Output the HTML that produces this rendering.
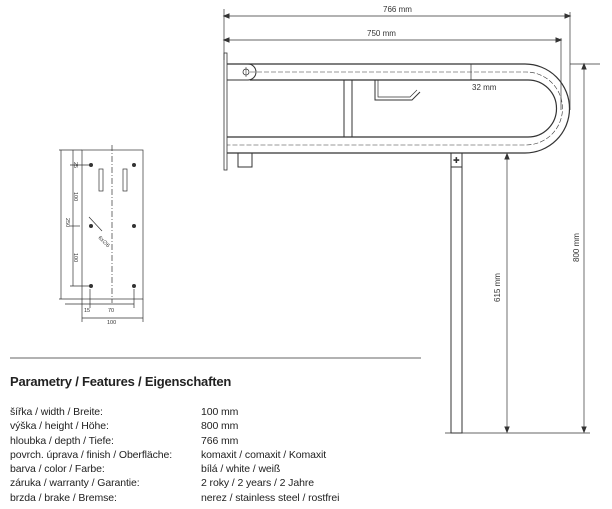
<!DOCTYPE html>
<html><head><meta charset="utf-8"><style>
body{margin:0;background:#fff;width:612px;height:509px;overflow:hidden;font-family:"Liberation Sans",sans-serif}
svg{position:absolute;left:0;top:0}
.t{position:absolute;font-size:10.5px;color:#222;line-height:14.3px;letter-spacing:-0.1px}
</style></head><body>
<svg width="612" height="509" viewBox="0 0 612 509" font-family="Liberation Sans" fill="none" stroke="#333" stroke-width="1">
<line x1="224" y1="9" x2="224" y2="60" stroke-width="0.7"/>
<line x1="224" y1="16" x2="570" y2="16" stroke-width="0.8"/>
<line x1="570" y1="12" x2="570" y2="110" stroke-width="0.7"/>
<path d="M224 16l5-2v4zM570 16l-5-2v4z" fill="#333"/>
<text x="383" y="12" font-size="8" fill="#333" stroke="none">766 mm</text>
<line x1="224" y1="40" x2="561" y2="40" stroke-width="0.8"/>
<line x1="561" y1="38" x2="561" y2="110" stroke-width="0.7"/>
<path d="M224 40l5-2v4zM561 40l-5-2v4z" fill="#333"/>
<text x="367" y="36" font-size="8" fill="#333" stroke="none">750 mm</text>
<rect x="224" y="53" width="3" height="117" stroke-width="0.8"/>
<path d="M227 64H525A44.5 44.5 0 0 1 525 153H227" stroke-width="1.2"/>
<path d="M250 80H528A28.5 28.5 0 0 1 528 137H227" stroke-width="1.2"/>
<path d="M250 72H526A36.5 36.5 0 0 1 526 145H227" stroke-width="0.6" stroke-dasharray="5 2"/>
<path d="M227 64H248A8 8 0 0 1 248 80H227" stroke-width="1"/>
<circle cx="246" cy="72" r="3" stroke-width="0.8"/>
<line x1="246" y1="67" x2="246" y2="77" stroke-width="0.6"/>
<rect x="344" y="80" width="8" height="57"/>
<path d="M375 80V100H412L420 92" stroke-width="1"/>
<path d="M378 80V97H410L417 90" stroke-width="0.7"/>
<rect x="238" y="153" width="14" height="14"/>
<rect x="451" y="153" width="11" height="14"/>
<text x="453" y="163" font-size="8" fill="#333" stroke="none">✚</text>
<rect x="451" y="167" width="11" height="266" stroke-width="1"/>
<line x1="445" y1="433" x2="590" y2="433" stroke-width="0.8"/>
<line x1="471" y1="64" x2="471" y2="80" stroke-width="0.7"/>
<text x="472" y="90" font-size="8" fill="#333" stroke="none">32 mm</text>
<line x1="507" y1="154" x2="507" y2="432" stroke-width="0.7"/>
<path d="M507 154l-2 5h4zM507 432l-2-5h4z" fill="#333"/>
<text transform="translate(500,302) rotate(-90)" font-size="8" fill="#333" stroke="none">615 mm</text>
<line x1="570" y1="64" x2="600" y2="64" stroke-width="0.7"/>
<line x1="584" y1="64" x2="584" y2="432" stroke-width="0.7"/>
<path d="M584 64l-2 5h4zM584 432l-2-5h4z" fill="#333"/>
<text transform="translate(579,262) rotate(-90)" font-size="8" fill="#333" stroke="none">800 mm</text>
<g stroke-width="0.7">
<rect x="82" y="150" width="61" height="149"/>
<line x1="112" y1="145" x2="112" y2="303" stroke-dasharray="6 2 1 2"/>
<line x1="59" y1="150" x2="82" y2="150"/><line x1="59" y1="299" x2="82" y2="299"/>
<line x1="61" y1="150" x2="61" y2="299"/>
<line x1="70" y1="165" x2="90" y2="165"/><line x1="70" y1="226" x2="80" y2="226"/><line x1="70" y1="286" x2="90" y2="286"/>
<line x1="73" y1="150" x2="73" y2="286"/>
<rect x="99" y="169" width="4" height="22"/><rect x="123" y="169" width="4" height="22"/>
<line x1="89" y1="217" x2="102" y2="231"/>
<line x1="65" y1="304" x2="90" y2="304"/>
<line x1="90" y1="289" x2="90" y2="308"/><line x1="134" y1="289" x2="134" y2="308"/>
<line x1="90" y1="304" x2="134" y2="304"/>
<line x1="82" y1="299" x2="82" y2="322"/><line x1="143" y1="299" x2="143" y2="322"/>
<line x1="82" y1="318" x2="143" y2="318"/>
</g>
<g fill="#333" stroke="none">
<circle cx="91" cy="165" r="2"/><circle cx="134" cy="165" r="2"/>
<circle cx="91" cy="226" r="2"/><circle cx="134" cy="226" r="2"/>
<circle cx="91" cy="286" r="2"/><circle cx="134" cy="286" r="2"/>
<g font-size="5.5">
<text transform="translate(74,162) rotate(90)">25</text>
<text transform="translate(74,192) rotate(90)">100</text>
<text transform="translate(66,218) rotate(90)">250</text>
<text transform="translate(74,253) rotate(90)">100</text>
<text transform="translate(98,238) rotate(45)">6x∅6</text>
<text x="84" y="312">15</text><text x="108" y="312">70</text><text x="107" y="324">100</text>
</g></g>
<line x1="10" y1="358" x2="421" y2="358" stroke="#666" stroke-width="1"/>
</svg>
<div style="position:absolute;left:10px;top:374px;font-size:13px;font-weight:bold;color:#222;letter-spacing:-0.2px">Parametry / Features / Eigenschaften</div>
<div class="t" style="left:10px;top:405px">šířka / width / Breite:<br>výška / height / Höhe:<br>hloubka / depth / Tiefe:<br>povrch. úprava / finish / Oberfläche:<br>barva / color / Farbe:<br>záruka / warranty / Garantie:<br>brzda / brake / Bremse:</div>
<div class="t" style="left:201px;top:405px">100 mm<br>800 mm<br>766 mm<br>komaxit / comaxit / Komaxit<br>bílá / white / weiß<br>2 roky / 2 years / 2 Jahre<br>nerez / stainless steel / rostfrei</div>
</body></html>
